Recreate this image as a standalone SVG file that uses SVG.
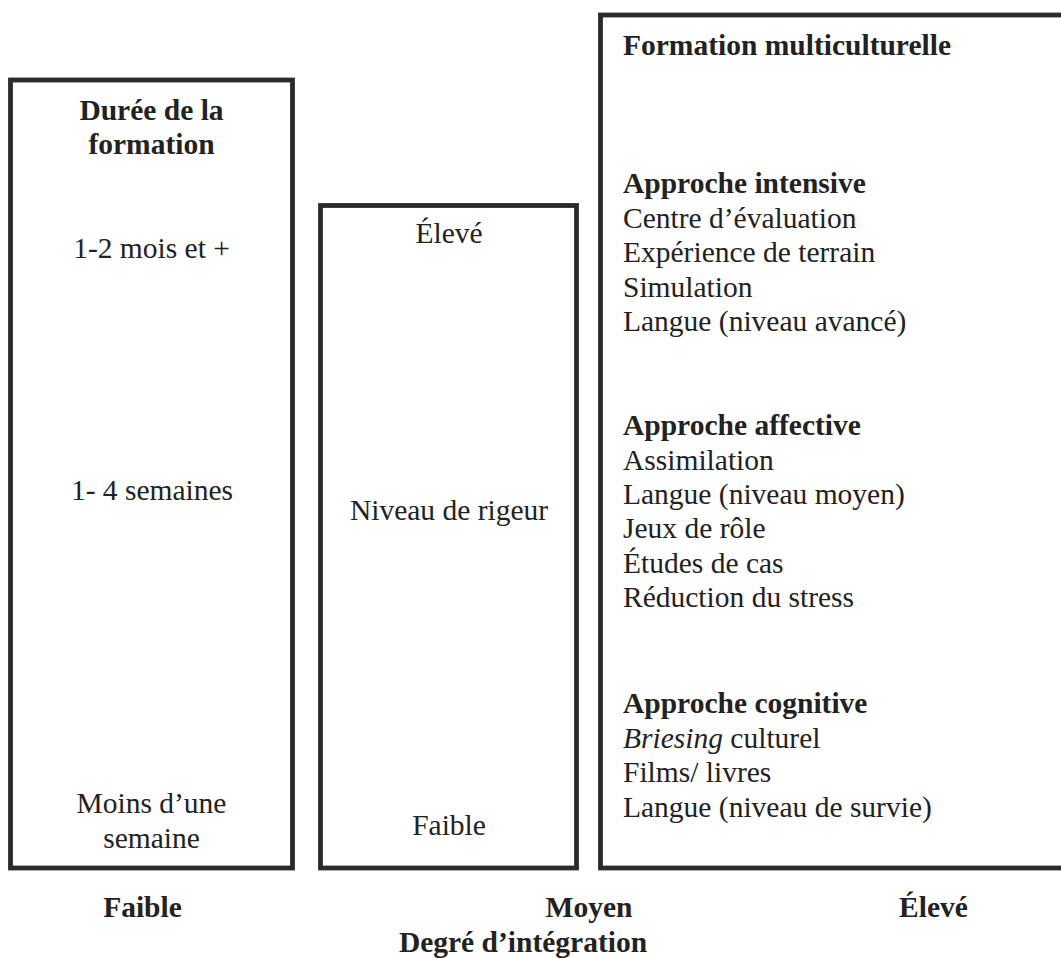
<svg xmlns="http://www.w3.org/2000/svg" width="1061" height="958" viewBox="0 0 1061 958">
  <style>
    text { font-family: "Liberation Serif", "Times New Roman", serif; font-size: 29.5px; fill: #222; }
    .b { font-weight: bold; }
    .c { text-anchor: middle; }
    .box { fill: #fff; stroke: #2b2b2b; stroke-width: 4.8; }
  </style>
  <rect width="1061" height="958" fill="#fff"/>

  <!-- Duration column -->
  <g id="duree">
    <rect class="box" x="10.5" y="80" width="282" height="788"/>
    <text class="b c" x="151.5" y="119.5">Durée de la</text>
    <text class="b c" x="151.5" y="154">formation</text>
    <text class="c" x="151.5" y="258">1-2 mois et +</text>
    <text class="c" x="152" y="500">1- 4 semaines</text>
    <text class="c" x="151.5" y="813">Moins d’une</text>
    <text class="c" x="151.5" y="848">semaine</text>
  </g>

  <!-- Rigour column -->
  <g id="rigueur">
    <rect class="box" x="320.5" y="205.5" width="256" height="662.5"/>
    <text class="c" x="449" y="243">Élevé</text>
    <text class="c" x="449" y="520">Niveau de rigeur</text>
    <text class="c" x="449" y="835">Faible</text>
  </g>

  <!-- Training approaches column -->
  <g id="formation">
    <rect class="box" x="600.5" y="15" width="470" height="853"/>
    <text class="b" x="623" y="55" font-size="31">Formation multiculturelle</text>
    <text class="b" x="623" y="193">Approche intensive</text>
    <text x="623" y="227.5">Centre d’évaluation</text>
    <text x="623" y="262">Expérience de terrain</text>
    <text x="623" y="296.5">Simulation</text>
    <text x="623" y="331">Langue (niveau avancé)</text>
    <text class="b" x="623" y="435">Approche affective</text>
    <text x="623" y="469.5">Assimilation</text>
    <text x="623" y="504">Langue (niveau moyen)</text>
    <text x="623" y="538">Jeux de rôle</text>
    <text x="623" y="572.5">Études de cas</text>
    <text x="623" y="607">Réduction du stress</text>
    <text class="b" x="623" y="713">Approche cognitive</text>
    <text x="623" y="747.5"><tspan font-style="italic">Briesing</tspan> culturel</text>
    <text x="623" y="782">Films/ livres</text>
    <text x="623" y="816.5">Langue (niveau de survie)</text>
  </g>

  <!-- Integration axis labels -->
  <g id="axe">
    <text class="b c" x="142.5" y="917">Faible</text>
    <text class="b c" x="589" y="917">Moyen</text>
    <text class="b c" x="933.5" y="917">Élevé</text>
    <text class="b c" x="523" y="952">Degré d’intégration</text>
  </g>

  <g id="connectors"/>
</svg>
